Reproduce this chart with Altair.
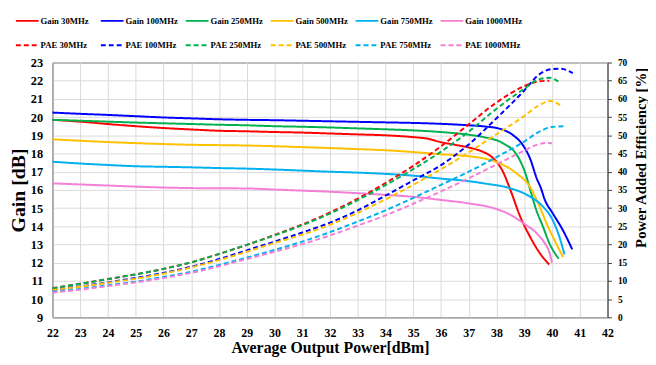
import altair as alt
import pandas as pd

# ---------------- data ----------------
series_gain = ["Gain 30MHz", "Gain 100MHz", "Gain 250MHz", "Gain 500MHz", "Gain 750MHz", "Gain 1000MHz"]
series_pae = ["PAE 30MHz", "PAE 100MHz", "PAE 250MHz", "PAE 500MHz", "PAE 750MHz", "PAE 1000MHz"]
colors = ["#FF0000", "#0000FF", "#00B050", "#FFC000", "#00B0F0", "#F47FD6"]

base_x = [22, 23, 24, 25, 26, 27, 28, 29, 30, 31, 32, 33, 34, 35, 36, 37]

gain30_x = base_x[:-2] + [35.5, 36, 36.5, 37, 37.5, 37.8, 38.0, 38.2, 38.5, 38.85, 39.2, 39.55, 39.9]
gain30_y = [19.85, 19.75, 19.62, 19.5, 19.4, 19.32, 19.25, 19.22, 19.18, 19.15, 19.1, 19.05, 19.0, 18.9,
            18.82, 18.62, 18.48, 18.33, 18.1, 17.85, 17.55, 17.1, 16.0, 14.55, 13.45, 12.55, 11.9]

gain100_x = base_x + [37.55, 38.14, 38.62, 38.92, 39.21, 39.45, 39.6, 39.73, 40.02, 40.38, 40.73]
gain100_y = [20.25, 20.18, 20.12, 20.05, 19.98, 19.93, 19.88, 19.85, 19.83, 19.8, 19.77, 19.74, 19.71, 19.68,
             19.63, 19.55, 19.49, 19.35, 18.98, 18.53, 17.72, 16.63, 16.1, 15.5, 14.73, 13.82, 12.73]

gain250_x = base_x + [37.54, 38.25, 38.72, 39.02, 39.25, 39.43, 39.67, 39.9, 40.24]
gain250_y = [19.85, 19.8, 19.75, 19.7, 19.66, 19.62, 19.58, 19.55, 19.5, 19.47, 19.43, 19.38, 19.33, 19.27,
             19.18, 19.03, 18.9, 18.55, 17.95, 17.0, 15.82, 14.91, 14.0, 13.09, 12.22]

gain500_x = base_x + [37.54, 38.13, 38.72, 39.2, 39.55, 39.85, 40.14, 40.4]
gain500_y = [18.78, 18.7, 18.63, 18.57, 18.52, 18.48, 18.46, 18.44, 18.4, 18.35, 18.3, 18.24, 18.18, 18.08,
             17.96, 17.85, 17.73, 17.45, 16.91, 16.18, 15.09, 14.0, 13.09, 12.3]

gain750_x = base_x + [37.54, 38.49, 39.2, 39.67, 40.02, 40.26, 40.45]
gain750_y = [17.55, 17.45, 17.37, 17.3, 17.27, 17.24, 17.2, 17.17, 17.12, 17.06, 17.0, 16.95, 16.88, 16.78,
             16.62, 16.48, 16.36, 16.09, 15.64, 15.09, 14.36, 13.45, 12.45]

gain1000_x = base_x + [37.89, 38.49, 38.96, 39.43, 39.73, 39.91, 40.0]
gain1000_y = [16.36, 16.3, 16.24, 16.18, 16.13, 16.1, 16.09, 16.08, 16.02, 15.96, 15.9, 15.82, 15.73, 15.62,
              15.45, 15.26, 15.0, 14.64, 14.18, 13.64, 13.09, 12.55, 12.0]

pae30_x = base_x + [38, 39, 39.5, 39.9]
pae30_y = [8.0, 9.2, 10.5, 11.8, 13.3, 15.1, 17.4, 19.9, 22.6, 25.5, 28.8, 32.6, 36.9, 41.6, 47.0, 53.0,
           59.0, 63.5, 64.8, 65.0]

pae100_x = base_x + [38, 39, 39.5, 40, 40.3, 40.75]
pae100_y = [7.5, 8.5, 9.6, 10.8, 12.2, 13.9, 16.0, 18.4, 20.8, 23.3, 26.0, 29.4, 33.4, 37.6, 41.8, 47.5,
            54.7, 62.3, 66.5, 68.2, 68.3, 67.1]

pae250_x = base_x + [38, 39, 39.5, 39.9, 40.3]
pae250_y = [8.0, 9.2, 10.5, 11.8, 13.3, 15.1, 17.4, 19.9, 22.5, 25.3, 28.5, 32.2, 36.3, 40.7, 45.5, 51.0,
            57.3, 62.8, 65.3, 65.8, 64.4]

pae500_x = base_x + [38, 39, 39.5, 39.95, 40.3]
pae500_y = [7.5, 8.4, 9.5, 10.6, 12.0, 13.7, 15.7, 18.0, 20.4, 22.7, 25.4, 28.7, 32.4, 36.4, 40.7, 45.3,
            50.3, 55.3, 58.1, 59.4, 58.2]

pae750_x = base_x + [38, 39, 39.5, 40, 40.5]
pae750_y = [7.0, 7.8, 8.8, 9.8, 11.1, 12.5, 14.4, 16.4, 18.5, 20.8, 23.4, 26.3, 29.4, 32.8, 36.4, 40.0,
            44.0, 48.3, 50.8, 52.3, 52.5]

pae1000_x = base_x + [38, 39, 39.5, 39.8, 40.0]
pae1000_y = [6.8, 7.6, 8.6, 9.6, 10.8, 12.2, 14.0, 16.0, 18.0, 20.1, 22.5, 25.2, 28.0, 31.2, 34.6, 38.2,
             42.0, 45.8, 47.5, 47.9, 47.8]

x_ticks = list(range(22, 43))
gain_ticks = list(range(9, 24))
pae_ticks = list(range(0, 71, 5))

# ---------------- build tables ----------------
def build(names, xs, ys):
    rows = []
    for n, xx, yy in zip(names, xs, ys):
        for i, (a, b) in enumerate(zip(xx, yy)):
            rows.append({"series": n, "x": a, "value": b, "i": i})
    return pd.DataFrame(rows)

df_gain = build(series_gain,
                [gain30_x, gain100_x, gain250_x, gain500_x, gain750_x, gain1000_x],
                [gain30_y, gain100_y, gain250_y, gain500_y, gain750_y, gain1000_y])
df_pae = build(series_pae,
               [pae30_x, pae100_x, pae250_x, pae500_x, pae750_x, pae1000_x],
               [pae30_y, pae100_y, pae250_y, pae500_y, pae750_y, pae1000_y])

all_names = series_gain + series_pae
dashes = [[1, 0]] * 6 + [[5, 3]] * 6

FONT = "Liberation Serif"

legend = alt.Legend(
    title=None, orient="none", legendX=-38, legendY=-55, direction="horizontal",
    columns=6, gridAlign="all", columnPadding=-1, rowPadding=7,
    symbolType="stroke", symbolSize=529, symbolStrokeWidth=2,
    labelFont=FONT, labelFontWeight="bold", labelFontSize=8.8, labelColor="black",
    labelOffset=1, padding=0,
)

color = alt.Color("series:N", scale=alt.Scale(domain=all_names, range=colors * 2), legend=legend)
dash = alt.StrokeDash("series:N", scale=alt.Scale(domain=all_names, range=dashes), legend=legend)

x_enc = alt.X("x:Q", scale=alt.Scale(domain=[22, 42], nice=False, zero=False),
              axis=alt.Axis(values=x_ticks, title="Average Output Power[dBm]",
                            grid=True, gridColor="#d9d9d9", ticks=False,
                            domainColor="#a0a0a0", labelFont=FONT, labelFontWeight="bold",
                            labelFontSize=12, labelColor="black", labelPadding=10,
                            labelFlush=False, labelBaseline="top",
                            titleFont=FONT, titleFontWeight="bold", titleFontSize=16,
                            titleColor="black", titleY=36, titleBaseline="alphabetic"))

gain_layer = alt.Chart(df_gain).mark_line(strokeWidth=2, interpolate="monotone").encode(
    x=x_enc,
    y=alt.Y("value:Q", scale=alt.Scale(domain=[9, 23], nice=False, zero=False),
            axis=alt.Axis(values=gain_ticks, title="Gain [dB]", grid=True, gridColor="#d9d9d9",
                          ticks=False, domainColor="#a0a0a0", labelFont=FONT,
                          labelFontWeight="bold", labelFontSize=12.5, labelColor="black",
                          labelPadding=10, labelFlush=False,
                          titleFont=FONT, titleFontWeight="bold", titleFontSize=20,
                          titleColor="black", titleAngle=270, titleX=-34, titleY=129,
                          titleAlign="center", titleBaseline="middle")),
    color=color, strokeDash=dash, order="i:Q",
)

pae_layer = alt.Chart(df_pae).mark_line(strokeWidth=2, interpolate="monotone").encode(
    x=x_enc,
    y=alt.Y("value:Q", scale=alt.Scale(domain=[0, 70], nice=False, zero=False),
            axis=alt.Axis(values=pae_ticks, orient="right", title="Power Added Efficiency [%]",
                          grid=False, ticks=True, tickSize=4, tickColor="#404040",
                          domainColor="#404040", labelFont=FONT, labelFontWeight="bold",
                          labelFontSize=9.5, labelColor="black", labelPadding=6, labelFlush=False,
                          titleFont=FONT, titleFontWeight="bold", titleFontSize=15,
                          titleColor="black", titleAngle=270, titleX=33, titleY=96,
                          titleAlign="center", titleBaseline="middle")),
    color=color, strokeDash=dash, order="i:Q",
)

chart = alt.layer(gain_layer, pae_layer).resolve_scale(y="independent").properties(
    width=562, height=258,
    autosize=alt.AutoSizeParams(type="none"),
    padding={"left": 45, "top": 53, "right": 41, "bottom": 38},
    background="white",
).configure_view(stroke="#404040", strokeWidth=1)

chart.save("out.html", embed_options={"renderer": "svg", "actions": False})
